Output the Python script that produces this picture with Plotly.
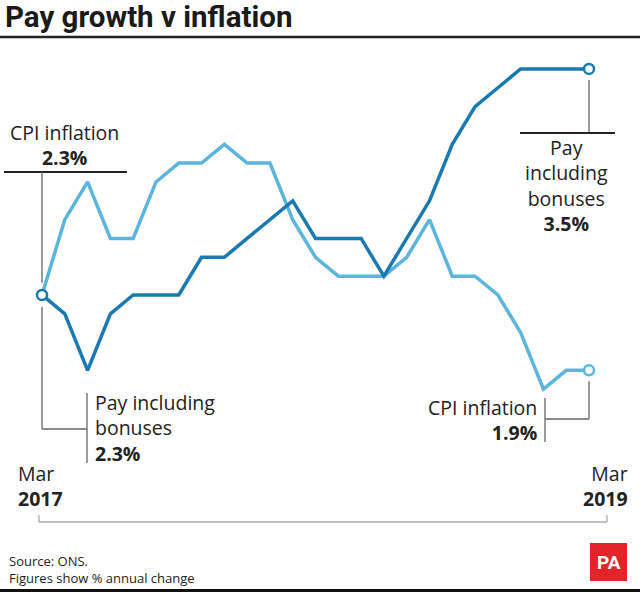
import plotly.graph_objects as go

months = ["Mar 2017", "Apr 2017", "May 2017", "Jun 2017", "Jul 2017", "Aug 2017",
          "Sep 2017", "Oct 2017", "Nov 2017", "Dec 2017", "Jan 2018", "Feb 2018",
          "Mar 2018", "Apr 2018", "May 2018", "Jun 2018", "Jul 2018", "Aug 2018",
          "Sep 2018", "Oct 2018", "Nov 2018", "Dec 2018", "Jan 2019", "Feb 2019",
          "Mar 2019"]
pay = [2.3, 2.2, 1.9, 2.2, 2.3, 2.3, 2.3, 2.5, 2.5, 2.6, 2.7, 2.8, 2.6, 2.6, 2.6,
       2.4, 2.6, 2.8, 3.1, 3.3, 3.4, 3.5, 3.5, 3.5, 3.5]
cpi = [2.3, 2.7, 2.9, 2.6, 2.6, 2.9, 3.0, 3.0, 3.1, 3.0, 3.0, 2.7, 2.5, 2.4, 2.4,
       2.4, 2.5, 2.7, 2.4, 2.4, 2.3, 2.1, 1.8, 1.9, 1.9]
start_label = ("Mar", "2017")
end_label = ("Mar", "2019")

W, H = 640, 592
XR = [-1.843, 26.237]
YR = [0.723, 3.866]

PAY_C = "#1a7ab0"
CPI_C = "#5cb5dc"
FONT = "Open Sans"
FS = 19.5


def X(px):
    return px / W


def Y(py):
    return 1 - py / H


def Yv(v, off_px=0):
    # data value to paper y, offset in pixels (positive = down)
    return (v - YR[0]) / (YR[1] - YR[0]) - off_px / H


fig = go.Figure()
fig.add_trace(go.Scatter(x=months, y=cpi, mode="lines",
                         line=dict(color=CPI_C, width=3.5), name="CPI inflation"))
fig.add_trace(go.Scatter(x=months, y=pay, mode="lines",
                         line=dict(color=PAY_C, width=3.5), name="Pay including bonuses"))
# end markers
fig.add_trace(go.Scatter(x=[months[-1]], y=[cpi[-1]], mode="markers",
                         marker=dict(size=10, color="white", line=dict(color=CPI_C, width=2.5))))
fig.add_trace(go.Scatter(x=[months[0], months[-1]], y=[pay[0], pay[-1]], mode="markers",
                         marker=dict(size=10, color="white", line=dict(color=PAY_C, width=2.5))))

shapes = []
GRAY = "#666666"


def line(x0, y0, x1, y1, color=GRAY, width=1.3, xref="paper"):
    shapes.append(dict(type="line", xref=xref, yref="paper", x0=x0, y0=y0, x1=x1, y1=y1,
                       line=dict(color=color, width=width)))


# title rule and bottom bar
line(0, Y(37), 1, Y(37), color="#222222", width=2.5)
shapes.append(dict(type="rect", xref="paper", yref="paper", x0=0, x1=1, y0=0, y1=Y(589),
                   line=dict(width=0), fillcolor="#111111"))

# CPI start label leader
line(X(4), Y(172), X(127), Y(172), color="#222222", width=2)
line(months[0], Y(172), months[0], Yv(cpi[0], -12), xref="x")
# Pay start label leader
line(months[0], Yv(pay[0], 12), months[0], Y(429), xref="x")
line(X(42), Y(429), X(87), Y(429))
line(X(87), Y(393), X(87), Y(463))
# Pay end label leader
line(months[-1], Yv(pay[-1], 11), months[-1], Y(133), xref="x")
line(X(520), Y(133), X(615), Y(133), color="#222222", width=2)
# CPI end label leader
line(months[-1], Yv(cpi[-1], 11), months[-1], Y(419), xref="x")
line(X(545), Y(419), X(589), Y(419))
line(X(545), Y(398), X(545), Y(442))
# bottom time bracket
line(X(39), Y(522), X(607), Y(522), color="#aaaaaa", width=1.3)
line(X(39), Y(515), X(39), Y(522), color="#aaaaaa", width=1.3)
line(X(607), Y(515), X(607), Y(522), color="#aaaaaa", width=1.3)
# PA logo
shapes.append(dict(type="rect", xref="paper", yref="paper", x0=X(590), x1=X(627),
                   y0=Y(581), y1=Y(543), line=dict(width=0), fillcolor="#e2242b"))

ann = []


def text(t, px, py, size=FS, anchor="left", color="#222222", family=FONT):
    ann.append(dict(text=t, x=X(px), y=Y(py), xref="paper", yref="paper",
                    xanchor=anchor, yanchor="middle", showarrow=False,
                    align=anchor if anchor != "center" else "center",
                    font=dict(size=size, color=color, family=family)))


text("<b>Pay growth v inflation</b>", 3, 17, size=29.5, family="Roboto", color="#1a1a1a")

text("CPI inflation<br><b>%.1f%%</b>" % cpi[0], 64, 144.5, anchor="center")

text("Pay including<br>bonuses<br><b>%.1f%%</b>" % pay[0], 93, 428)

text("Pay<br>including<br>bonuses<br><b>%.1f%%</b>" % pay[-1], 566, 185, anchor="center")

text("CPI inflation<br><b>%.1f%%</b>" % cpi[-1], 539, 420, anchor="right")

text("%s<br><b>%s</b>" % start_label, 16, 486)
text("%s<br><b>%s</b>" % end_label, 630, 486, anchor="right")

text("Source: ONS.<br>Figures show % annual change", 7, 569, size=13)
text("<b>PA</b>", 608.5, 562, size=19, anchor="center", color="white", family="Roboto")

fig.update_layout(
    width=W, height=H, margin=dict(l=0, r=0, t=0, b=0),
    paper_bgcolor="white", plot_bgcolor="white", showlegend=False,
    xaxis=dict(type="category", range=XR, visible=False, fixedrange=True),
    yaxis=dict(range=YR, visible=False, fixedrange=True),
    shapes=shapes, annotations=ann,
)
fig.write_html("out.html", config={"displayModeBar": False},
               post_script="document.body.style.margin='0';document.body.style.overflow='hidden';")
